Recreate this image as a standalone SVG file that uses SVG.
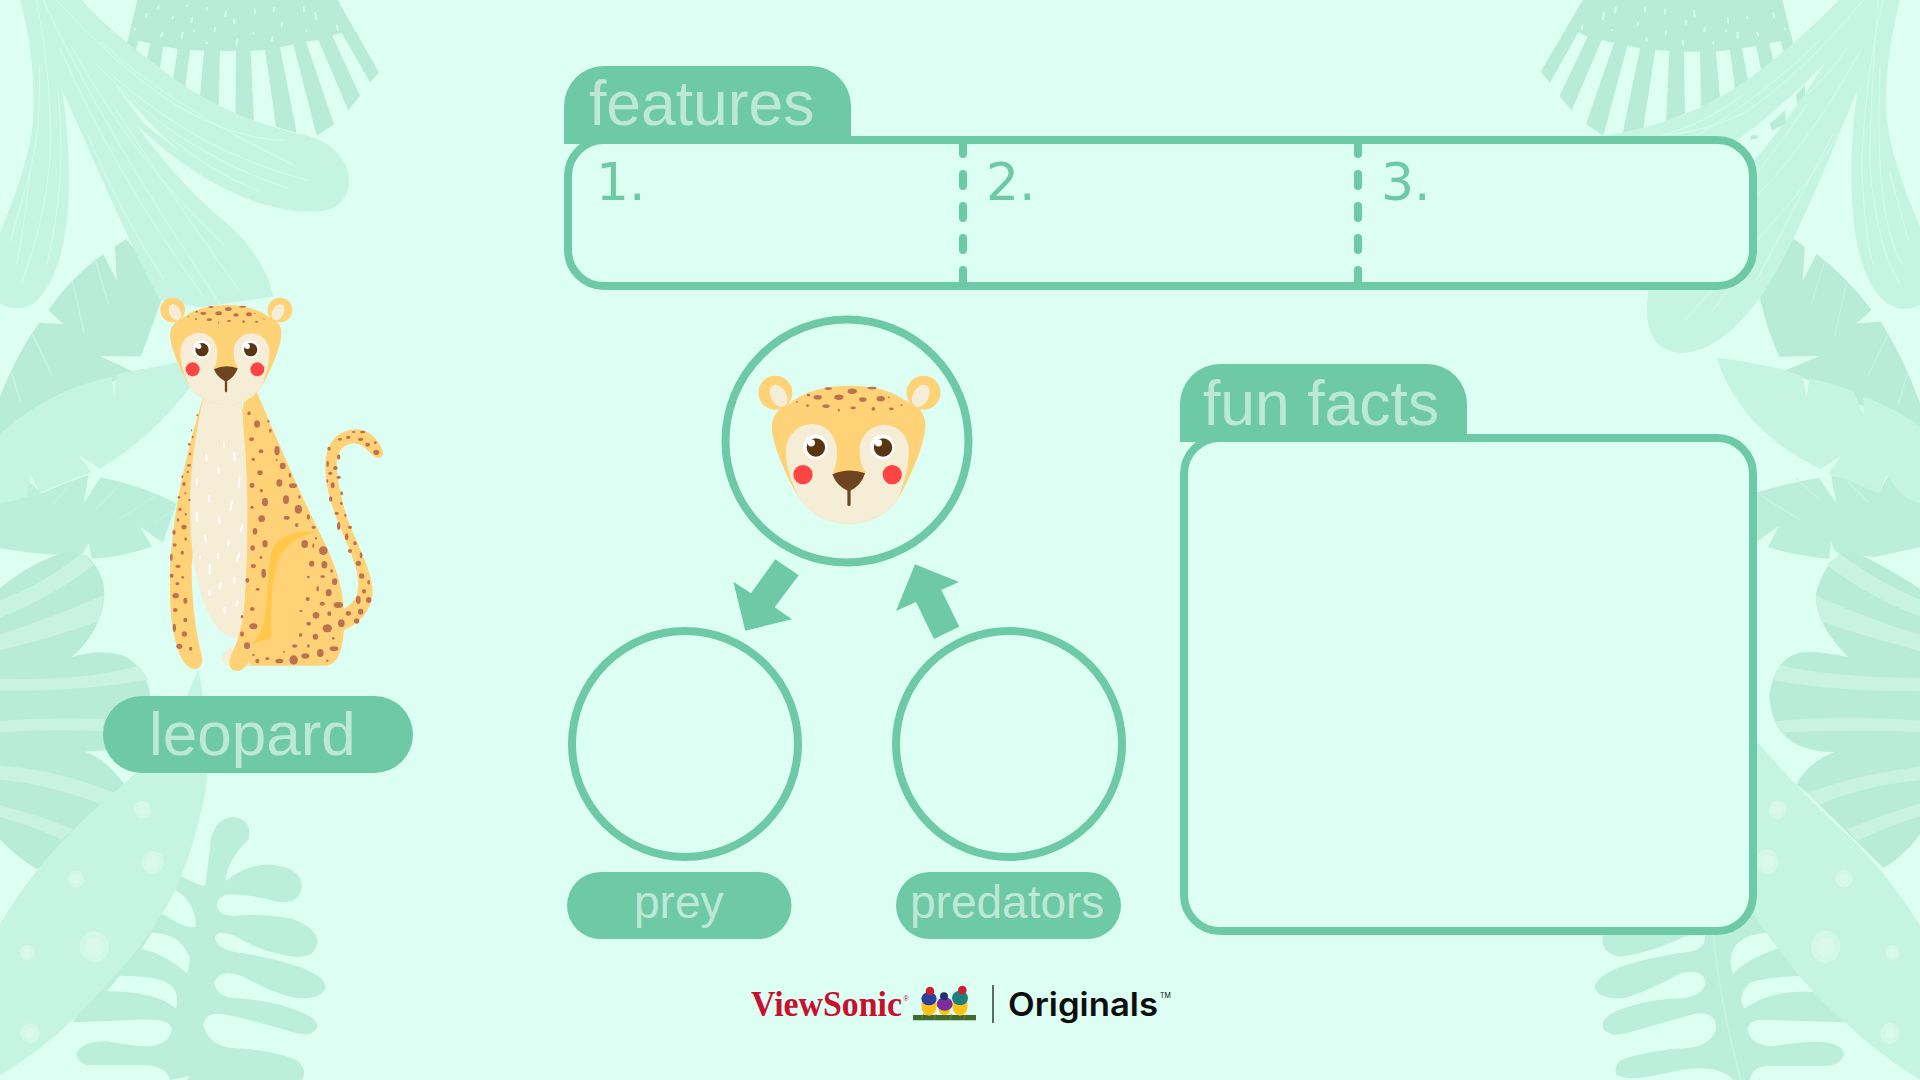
<svg xmlns="http://www.w3.org/2000/svg" xmlns:xlink="http://www.w3.org/1999/xlink" width="1920" height="1080" viewBox="0 0 1920 1080">
<style>
.bg{fill:#DDFFF3}
.lt{fill:#C5F4E3}
.dk{fill:#B8ECD9}
.md{fill:#BCEEDC}
.st{fill:#C8F3E2}
.vein{fill:none;stroke:#DDFFF3;stroke-width:2.4;stroke-opacity:.75;stroke-linecap:round}
.rib{fill:none;stroke:#C8F3E2;stroke-width:5;stroke-linecap:round}
.speck{fill:none;stroke:#DDFFF3;stroke-width:5;stroke-linecap:round}
.dot{fill:#D3F7E9}
.dot2{fill:#DAF9EE}
.line{fill:none;stroke:#6EC9A6;stroke-width:8}
.panel{fill:#DDFFF3;stroke:#6EC9A6;stroke-width:8}
.solid{fill:#6EC9A6}
.dash{fill:none;stroke:#6EC9A6;stroke-width:8;stroke-linecap:round;stroke-dasharray:12 20}
.title{font-family:"Liberation Sans",Arial,sans-serif;fill:#BDE8D8}
.num{font-family:"DejaVu Sans",sans-serif;font-size:52px;fill:#6EC9A6}
.fur{fill:#FFD277}
.cream{fill:#F5EDD6}
.spot ellipse{fill:#BE7150}
.chalk{fill:none;stroke:#fff;stroke-width:6;stroke-linecap:round}
</style>
<defs>
<g id="leopard-head">
<circle class="fur" cx="98" cy="90" r="37"/>
<circle class="fur" cx="420" cy="90" r="37"/>
<ellipse class="cream" cx="105" cy="97" rx="17" ry="26" transform="rotate(-28 105 97)"/>
<ellipse class="cream" cx="414" cy="97" rx="17" ry="26" transform="rotate(28 414 97)"/>
<path class="fur" d="M260,75C205,75 160,88 132,112C105,122 90,140 90,168C92,205 125,280 150,320C175,355 215,375 258,375C302,375 340,355 365,320C385,285 424,205 424,160C424,130 405,118 382,108C350,85 310,75 260,75Z"/>
<path class="cream" d="M150,320C130,280 120,245 121,215C122,180 150,158 178,158C210,158 232,185 232,220C232,240 228,255 222,265L295,265C285,250 281,235 281,215C281,185 305,160 335,160C365,160 388,185 388,215C388,250 378,285 365,320C340,355 300,375 258,375C215,375 175,355 150,320Z"/>
<g class="spot">
<ellipse cx="190" cy="100" rx="9" ry="5"/><ellipse cx="236" cy="100" rx="10" ry="6"/><ellipse cx="265" cy="87" rx="10" ry="6"/><ellipse cx="288" cy="105" rx="8" ry="5"/><ellipse cx="327" cy="103" rx="9" ry="6"/><ellipse cx="208" cy="119" rx="8" ry="4"/><ellipse cx="213" cy="81" rx="8" ry="3"/><ellipse cx="308" cy="80" rx="10" ry="3"/><ellipse cx="170" cy="95" rx="4" ry="3"/><ellipse cx="168" cy="118" rx="3" ry="3"/><ellipse cx="236" cy="128" rx="2" ry="3"/><ellipse cx="267" cy="123" rx="6" ry="3"/><ellipse cx="311" cy="125" rx="4" ry="4"/><ellipse cx="350" cy="125" rx="5" ry="3"/><ellipse cx="372" cy="117" rx="2" ry="2"/><ellipse cx="145" cy="110" rx="2" ry="2"/><ellipse cx="345" cy="100" rx="2" ry="2"/>
</g>
<circle cx="185" cy="208" r="27" fill="#fff"/><circle cx="331" cy="208" r="27" fill="#fff"/>
<circle cx="186" cy="209" r="20" fill="#5A3512"/><circle cx="332" cy="209" r="20" fill="#5A3512"/>
<circle cx="176" cy="199" r="8" fill="#fff"/><circle cx="322" cy="199" r="8" fill="#fff"/>
<circle cx="158" cy="268" r="21" fill="#FF4444"/><circle cx="352" cy="268" r="21" fill="#FF4444"/>
<path d="M222,267Q258,252 293,265Q285,292 258,305Q230,292 222,267Z" fill="#6E4520"/>
<path d="M258,298V333" stroke="#6E4520" stroke-width="7" stroke-linecap="round" fill="none"/>
</g>
</defs>

<rect class="bg" width="1920" height="1080"/>

<!-- foliage, left side -->
<g id="foliage-left">
<g transform="scale(.33333 .35714)">
<path class="dk" d="M412,0L380,125L405,150L415,115L450,122L440,170L478,205L490,130L533,137L518,225L556,245L570,140L612,142L600,270L656,298L660,143L708,143L706,320L762,340L752,143L795,140L828,355L890,372L840,132L880,125L950,380L1002,348L918,117L955,112L1045,310L1080,268L997,100L1025,92L1110,230L1137,203L1013,0Z"/>
<path class="speck" d="M440,38l-2,10M477,18l-4,4M563,15l-3,2M622,22l-2,6M678,32l-2,14M764,26l1,10M823,22l-2,10M911,20l1,12M945,36l4,18M520,46l-3,6M577,50l-3,12M702,56l1,10M846,64l-1,8M1010,72l3,10M405,80l-1,3M583,85l-1,3M645,78l-1,10M760,92l0,3M920,85l-1,3M488,92l-5,10M548,92l-3,14M712,112l-3,14M817,105l-1,8M620,120l0,2"/>
<path class="dk" d="M345,245L372,270L362,285L345,262ZM410,305L450,340L445,365L403,335ZM490,378L505,388L495,390Z"/>
<path class="dk" d="M378,670L345,690L350,785L310,712Q220,770 145,868L190,908L118,903Q50,990 0,1110V1230L400,1040L300,997L423,998L500,800Z"/>
<path class="lt" d="M0,1215Q150,1090 335,1055L342,1110L350,1048L400,1038L530,1015L570,1085Q450,1230 300,1312L235,1275L275,1322Q190,1350 120,1380L92,1330L85,1400L0,1420Z"/>
<path class="rib" d="M30,1240L45,1175M72,1240L98,1150M130,1195L148,1120M210,1165L235,1085M240,1175L280,1075M350,1180L400,1040M35,1045L62,1125M97,935L155,1050M218,790L252,930M285,725L325,850"/>
<path class="lt" d="M60,0C85,80 105,200 100,310C100,420 40,560 0,650V850C30,865 70,870 100,850C170,800 205,670 207,520C208,400 195,300 185,250C260,400 380,670 480,840L600,860L820,830C800,740 730,660 660,610C560,530 480,440 410,350C600,520 800,600 950,592C1020,590 1048,550 1048,500C1040,430 970,385 900,375C800,355 620,300 480,190C380,120 300,60 245,0Z"/>
<path class="bg" d="M345,235Q440,340 540,425L430,345Z"/>
<path class="vein" d="M170,0Q330,170 520,290Q700,390 855,393M300,115Q500,290 880,462M330,205Q600,430 925,505M290,180Q520,420 862,527M510,385Q630,480 775,535M215,130Q400,450 670,683M180,135Q340,480 610,830M130,0Q300,350 660,850M340,295Q500,530 715,810M262,375Q350,580 490,780M110,0Q160,240 150,450Q130,640 65,790M118,185Q125,350 90,480Q75,620 50,740M90,480L32,675M172,245Q205,500 140,740"/>
</g>
<g transform="translate(0 440) scale(.33333)">
<path class="md" d="M0,190Q40,185 80,170L88,125L125,160Q190,130 265,105L252,190L302,112Q420,135 530,190L488,308L420,260L456,320Q370,350 275,356L265,310L245,345Q150,350 0,325Z"/>
<path class="rib" style="stroke-width:3" d="M80,170L105,130M160,190L215,130M285,210L365,128M355,240L470,165M460,250L530,205"/>
</g>
<g transform="translate(0 540) scale(.33333 .34444)">
<path class="dk" d="M0,140Q100,60 200,35Q250,30 275,60Q320,110 312,170Q300,270 215,340Q300,315 370,335Q440,370 450,450V600L255,615Q310,630 370,705L420,800L110,955Q50,920 0,870Z"/>
<path class="st" d="M0,175Q130,130 245,38L283,72Q150,170 0,225ZM0,275Q170,220 313,160L295,237Q150,285 0,320ZM0,403Q250,410 417,365L445,405Q250,440 0,437ZM0,525Q150,515 310,520V555Q150,548 0,558ZM0,655Q180,670 345,735L300,765Q150,710 0,695ZM0,770Q120,800 220,840L185,870Q90,825 0,805Z"/>
<path class="md" d="M615,1005Q628,920 632,870Q650,800 705,805Q760,815 745,870Q680,930 677,990Q740,940 810,942Q905,950 905,1005Q900,1060 830,1050Q740,1025 680,1030Q645,1040 653,1070Q665,1095 710,1090Q800,1085 880,1100Q955,1130 953,1170Q945,1215 880,1210Q780,1195 705,1150Q650,1130 645,1155Q650,1185 700,1195Q830,1215 900,1240Q980,1270 977,1302Q960,1335 890,1330Q830,1320 735,1270Q660,1240 642,1285Q650,1325 700,1330Q820,1335 915,1375Q955,1395 952,1415Q935,1445 880,1430Q760,1395 680,1378Q615,1365 610,1410Q630,1470 700,1475Q820,1480 890,1510Q925,1540 905,1568H560Q590,1525 650,1540L510,1568Q500,1530 440,1525H260Q225,1510 230,1490Q245,1455 320,1455Q400,1470 450,1470Q515,1460 515,1415Q500,1390 440,1392L220,1400L300,1250L520,960Q570,995 615,1005Z"/>
<path class="bg" d="M490,1085Q555,1130 587,1123Q590,1055 525,1015L450,1100ZM455,1140Q540,1140 568,1210Q570,1240 560,1258Q500,1205 425,1187ZM360,1265Q480,1265 515,1295Q540,1320 528,1360Q470,1310 320,1310Z"/>
<path class="lt" d="M595,375Q650,650 600,800Q560,970 490,1080Q420,1190 330,1280Q180,1450 0,1555V1115Q130,900 370,710L425,660Q520,560 595,375Z"/>
<circle class="dot" cx="428" cy="783" r="26"/><circle class="dot2" cx="428" cy="783" r="15"/>
<circle class="dot" cx="458" cy="935" r="33"/><circle class="dot2" cx="458" cy="935" r="20"/>
<circle class="dot" cx="227" cy="985" r="25"/><circle class="dot2" cx="227" cy="985" r="14"/>
<circle class="dot" cx="283" cy="1180" r="44"/><circle class="dot2" cx="283" cy="1180" r="28"/>
<circle class="dot" cx="82" cy="1198" r="22"/><circle class="dot2" cx="82" cy="1198" r="12"/>
<circle class="dot" cx="90" cy="1432" r="29"/><circle class="dot2" cx="90" cy="1432" r="16"/>
</g>
</g>

<!-- foliage, right side -->
<g id="foliage-right">
<g transform="translate(1500 0) scale(.33333)">
<path class="dk" d="M248,0L122,215L150,248L235,97L263,110L178,288L215,332L305,120L342,130L258,372L310,408L382,137L420,145L368,400L430,385L466,150L508,153L498,365L555,340L552,155L600,155L603,322L660,295L648,155L690,150L705,268L745,243L726,145L768,138L785,215L822,190L808,130L842,123L853,165L882,140L847,0Z"/>
<path class="speck" d="M312,38l-3,20M347,22l-1,15M435,22l1,12M495,28l-1,12M582,32l2,16M683,54l2,14M741,50l1,5M820,40l2,12M247,78l-2,10M414,68l-1,8M558,62l-1,10M337,90l-1,2M498,94l-1,8M614,84l-1,10M678,90l-1,4M712,98l1,16M771,98l4,8M854,86l0,2M440,114l0,8M548,122l1,12M640,128l0,4"/>
<path class="dk" d="M838,1070L958,1068L858,1110L1260,1300V1210Q1210,1070 1142,965L1070,970L1115,930Q1040,830 950,762L908,842L915,742L880,715L780,895Q800,990 838,1070Z"/>
<path class="rib" style="stroke-width:3" d="M975,780L935,910M1040,845L1005,1005M1165,1000L1105,1125M1225,1115L1195,1210"/>
<path class="lt" d="M650,1073Q750,1085 858,1110L908,1130L920,1190L928,1135Q1000,1150 1062,1175L1090,1245L1090,1190Q1180,1220 1260,1280V1510Q1200,1500 1170,1447L1160,1425L1135,1480Q1050,1450 985,1420L1022,1368L962,1408Q720,1290 650,1073Z"/>
<path class="rib" d="M718,1085Q735,1130 750,1165M785,1100Q800,1190 830,1245M818,1105Q830,1150 848,1195M858,1115Q880,1200 908,1265M978,1150Q990,1230 1022,1295M1025,1165Q1035,1210 1052,1250M1110,1195L1132,1280M1165,1225L1190,1325M1215,1255L1235,1325"/>
<path class="lt" d="M1017,0Q880,140 740,240Q560,370 310,408L445,870Q420,1050 540,1058Q650,1065 780,895Q880,750 1072,270Q1040,500 1065,700Q1100,900 1195,925Q1230,930 1260,915V680Q1170,470 1160,350Q1150,200 1200,0Z"/>
<path class="bg" d="M975,190Q850,320 700,430L765,480Q880,340 975,190Z"/>
<path class="dk" d="M888,285L915,255L915,290L892,315ZM810,370L855,330L858,370L815,392ZM755,405L772,405L775,415L750,420Z"/>
<path class="vein" d="M1090,0Q900,230 730,340Q620,395 480,408M960,120Q800,280 590,408M735,283Q620,370 480,408M1045,140Q900,350 700,420M1082,150Q950,400 770,590M920,315Q850,420 770,520M1000,400L770,840M1085,260Q1000,480 770,720M690,860L640,930M635,870L555,960M1150,0Q1100,200 1085,480Q1090,680 1118,790M1140,200Q1130,450 1150,600Q1170,740 1210,795M1135,0Q1110,300 1110,500Q1130,740 1198,850M1168,515L1225,720"/>
</g>
<path class="md" d="M1745,496Q1790,482 1819,478L1836,503L1831,475Q1855,482 1878,493L1888,477L1892,482Q1903,500 1920,503V547Q1895,553 1875,557L1840,554Q1834,552 1831,542L1829,559Q1795,556 1768,547L1779,526L1745,550Z"/>
<path class="rib" style="stroke-width:1.4" d="M1760,495L1800,520M1796,478L1820,500M1848,482L1868,502"/>
<g transform="translate(1500 500) scale(.33333 .36990)">
<path class="dk" d="M1020,145Q960,190 947,260Q950,340 1045,425Q960,408 900,412Q820,430 808,530Q815,680 1003,682Q920,710 890,770L925,795L1150,995Q1210,965 1260,905V240Q1140,170 1060,140Z"/>
<path class="st" d="M1020,145Q1130,220 1260,270V315Q1100,260 980,175ZM947,258Q1100,320 1260,365V408Q1100,370 965,330Q950,300 947,258ZM840,447Q1000,480 1260,482V517Q1000,518 818,487ZM825,598Q1050,580 1260,597V627Q1050,620 848,628ZM920,793Q1080,740 1260,722V757Q1080,775 957,824ZM1040,890Q1150,850 1260,820V855Q1150,885 1075,922Z"/>
<path class="md" d="M310,1170Q295,1225 360,1235Q450,1225 560,1178L615,1175Q618,1210 575,1220Q420,1240 340,1270Q285,1295 283,1320Q300,1350 370,1347Q440,1330 540,1280Q600,1265 617,1300Q610,1345 540,1347Q420,1350 330,1390Q300,1410 310,1430Q335,1455 385,1440Q500,1410 590,1388Q650,1385 648,1430Q630,1480 550,1482Q430,1490 360,1515Q340,1535 350,1555Q390,1575 520,1545Q650,1520 700,1568H750Q755,1530 810,1530H980Q1030,1525 1032,1495Q1020,1460 920,1465L810,1477Q750,1470 743,1430Q750,1405 790,1405L1035,1412L1100,1300L800,1120L770,1100L640,1160Z"/>
<path class="bg" d="M700,1280Q680,1240 710,1200Q750,1170 805,1170L838,1212Q750,1235 700,1280ZM733,1375Q710,1340 750,1305Q800,1290 900,1287L945,1330Q820,1320 733,1375Z"/>
<path class="rib" d="M640,1175Q660,1360 722,1568"/>
<path class="lt" d="M740,620Q880,770 1000,870Q1150,990 1260,1150V1568Q1120,1490 1020,1400Q880,1290 740,1090Z"/>
<circle class="dot" cx="832" cy="838" r="26"/><circle class="dot2" cx="832" cy="838" r="15"/>
<circle class="dot" cx="802" cy="978" r="33"/><circle class="dot2" cx="802" cy="978" r="20"/>
<circle class="dot" cx="1032" cy="1024" r="25"/><circle class="dot2" cx="1032" cy="1024" r="14"/>
<circle class="dot" cx="977" cy="1208" r="44"/><circle class="dot2" cx="977" cy="1208" r="28"/>
<circle class="dot" cx="1177" cy="1224" r="21"/><circle class="dot2" cx="1177" cy="1224" r="12"/>
<circle class="dot" cx="1170" cy="1442" r="29"/><circle class="dot2" cx="1170" cy="1442" r="16"/>
</g>
</g>

<!-- seated leopard -->
<g id="leopard" transform="translate(140 280) scale(.33333)">
<path class="fur" d="M730,520C725,495 695,448 650,448C590,450 556,490 556,560C556,640 590,720 625,800C650,860 660,900 652,940C640,970 625,980 605,990L612,1050C660,1030 698,990 698,930C695,870 650,790 620,710C600,640 590,590 590,550C592,510 615,490 645,490C675,492 690,525 710,533C722,535 730,530 730,520Z"/>
<path class="fur" d="M350,335C400,450 470,620 540,760C590,860 612,930 612,1010C614,1090 600,1157 555,1157H320L300,1060L310,370Z"/>
<path class="fur" d="M190,350C165,430 130,560 110,680C95,770 88,850 90,950C92,1050 115,1165 165,1167C185,1165 190,1145 185,1125C165,1050 155,950 155,860L200,350Z"/>
<path class="cream" d="M190,350C170,450 150,560 150,680C150,800 165,950 230,1040C260,1075 290,1080 300,1070C318,1000 325,800 322,650C320,530 310,440 303,370Z"/>
<path class="cream" d="M245,1135Q250,1110 275,1100L335,1155L270,1157Q245,1155 245,1135Z"/>
<path class="fur" d="M303,370C330,550 325,800 315,960C310,1020 300,1060 285,1100C270,1130 262,1150 275,1168C295,1182 320,1165 328,1140L345,1080L400,700Z"/>
<path fill="#FFC84A" d="M525,757C470,748 420,770 400,800C385,840 385,900 378,1000C372,1040 355,1075 335,1092L393,1075C392,1000 395,900 412,850C430,800 470,770 525,757Z"/>
<path class="chalk" d="M252,490v10M199,524v18M283,520v20M236,565v14M170,598v16M298,594l-2,26M207,648v16M275,665l-3,24M170,698v26M236,713l4,16M308,736l-6,16M194,766l4,20M265,782v14M180,830v4M234,822v12M298,820l-8,26M209,855v26M283,893v16M242,908l-3,16M208,932v12M293,966l-4,10M254,984v12"/>
<g class="spot">
<ellipse cx="327" cy="400" rx="5" ry="6"/><ellipse cx="351" cy="432" rx="9" ry="11"/><ellipse cx="335" cy="478" rx="7" ry="6"/><ellipse cx="363" cy="514" rx="7" ry="6"/><ellipse cx="411" cy="512" rx="8" ry="14"/><ellipse cx="340" cy="538" rx="5" ry="5"/><ellipse cx="428" cy="558" rx="9" ry="10"/><ellipse cx="360" cy="578" rx="8" ry="7"/><ellipse cx="418" cy="609" rx="9" ry="11"/><ellipse cx="459" cy="617" rx="12" ry="7"/><ellipse cx="336" cy="616" rx="7" ry="8"/><ellipse cx="364" cy="632" rx="5" ry="5"/><ellipse cx="375" cy="666" rx="9" ry="13"/><ellipse cx="438" cy="659" rx="9" ry="13"/><ellipse cx="475" cy="688" rx="11" ry="13"/><ellipse cx="336" cy="682" rx="5" ry="5"/><ellipse cx="478" cy="651" rx="4" ry="5"/><ellipse cx="365" cy="716" rx="10" ry="10"/><ellipse cx="440" cy="713" rx="9" ry="6"/><ellipse cx="505" cy="711" rx="5" ry="8"/><ellipse cx="345" cy="754" rx="7" ry="10"/><ellipse cx="470" cy="735" rx="5" ry="6"/><ellipse cx="521" cy="742" rx="6" ry="5"/><ellipse cx="375" cy="791" rx="8" ry="11"/><ellipse cx="338" cy="804" rx="7" ry="8"/><ellipse cx="363" cy="832" rx="4" ry="5"/><ellipse cx="340" cy="858" rx="8" ry="6"/><ellipse cx="371" cy="880" rx="7" ry="14"/><ellipse cx="322" cy="901" rx="6" ry="7"/><ellipse cx="353" cy="928" rx="6" ry="4"/><ellipse cx="337" cy="987" rx="7" ry="6"/><ellipse cx="340" cy="1039" rx="12" ry="9"/><ellipse cx="306" cy="1062" rx="6" ry="8"/><ellipse cx="321" cy="1097" rx="9" ry="10"/><ellipse cx="306" cy="1010" rx="4" ry="5"/><ellipse cx="391" cy="452" rx="4" ry="6"/><ellipse cx="385" cy="424" rx="3" ry="4"/><ellipse cx="410" cy="540" rx="3" ry="3"/><ellipse cx="450" cy="586" rx="4" ry="7"/>
<ellipse cx="494" cy="792" rx="10" ry="12"/><ellipse cx="550" cy="812" rx="13" ry="13"/><ellipse cx="520" cy="797" rx="3" ry="7"/><ellipse cx="528" cy="775" rx="4" ry="3"/><ellipse cx="553" cy="854" rx="9" ry="11"/><ellipse cx="515" cy="851" rx="8" ry="9"/><ellipse cx="584" cy="905" rx="8" ry="10"/><ellipse cx="575" cy="873" rx="4" ry="5"/><ellipse cx="548" cy="890" rx="7" ry="4"/><ellipse cx="505" cy="891" rx="4" ry="4"/><ellipse cx="533" cy="926" rx="4" ry="8"/><ellipse cx="566" cy="938" rx="9" ry="11"/><ellipse cx="503" cy="957" rx="6" ry="6"/><ellipse cx="595" cy="975" rx="14" ry="9"/><ellipse cx="547" cy="971" rx="8" ry="6"/><ellipse cx="483" cy="993" rx="5" ry="3"/><ellipse cx="528" cy="1006" rx="10" ry="10"/><ellipse cx="568" cy="1001" rx="6" ry="7"/><ellipse cx="506" cy="1031" rx="7" ry="6"/><ellipse cx="604" cy="1030" rx="10" ry="12"/><ellipse cx="562" cy="1045" rx="14" ry="12"/><ellipse cx="482" cy="1065" rx="5" ry="6"/><ellipse cx="526" cy="1070" rx="8" ry="9"/><ellipse cx="580" cy="1075" rx="4" ry="4"/><ellipse cx="464" cy="1098" rx="8" ry="5"/><ellipse cx="505" cy="1098" rx="4" ry="5"/><ellipse cx="541" cy="1119" rx="10" ry="12"/><ellipse cx="582" cy="1106" rx="13" ry="7"/><ellipse cx="432" cy="1115" rx="3" ry="3"/><ellipse cx="496" cy="1128" rx="12" ry="8"/><ellipse cx="418" cy="1143" rx="12" ry="7"/><ellipse cx="461" cy="1140" rx="13" ry="14"/><ellipse cx="382" cy="1136" rx="6" ry="4"/><ellipse cx="352" cy="1143" rx="6" ry="7"/><ellipse cx="340" cy="1125" rx="4" ry="3"/><ellipse cx="562" cy="1142" rx="4" ry="3"/>
<ellipse cx="172" cy="406" rx="3" ry="3"/><ellipse cx="155" cy="451" rx="2" ry="3"/><ellipse cx="158" cy="471" rx="3" ry="4"/><ellipse cx="148" cy="493" rx="4" ry="4"/><ellipse cx="150" cy="522" rx="4" ry="4"/><ellipse cx="147" cy="556" rx="6" ry="4"/><ellipse cx="143" cy="576" rx="3" ry="4"/><ellipse cx="127" cy="590" rx="3" ry="4"/><ellipse cx="132" cy="612" rx="5" ry="6"/><ellipse cx="136" cy="640" rx="3" ry="3"/><ellipse cx="117" cy="652" rx="4" ry="4"/><ellipse cx="148" cy="660" rx="4" ry="3"/><ellipse cx="120" cy="688" rx="5" ry="5"/><ellipse cx="137" cy="703" rx="3" ry="4"/><ellipse cx="114" cy="720" rx="4" ry="5"/><ellipse cx="132" cy="741" rx="8" ry="7"/><ellipse cx="102" cy="757" rx="5" ry="8"/><ellipse cx="137" cy="777" rx="4" ry="5"/><ellipse cx="104" cy="795" rx="6" ry="5"/><ellipse cx="127" cy="818" rx="5" ry="6"/><ellipse cx="94" cy="832" rx="4" ry="11"/><ellipse cx="114" cy="859" rx="8" ry="5"/><ellipse cx="95" cy="887" rx="6" ry="6"/><ellipse cx="128" cy="892" rx="4" ry="4"/><ellipse cx="112" cy="911" rx="6" ry="5"/><ellipse cx="107" cy="947" rx="10" ry="8"/><ellipse cx="136" cy="962" rx="6" ry="9"/><ellipse cx="106" cy="990" rx="7" ry="6"/><ellipse cx="136" cy="1020" rx="6" ry="7"/><ellipse cx="103" cy="1043" rx="5" ry="12"/><ellipse cx="133" cy="1062" rx="8" ry="8"/><ellipse cx="118" cy="1099" rx="9" ry="8"/><ellipse cx="152" cy="1106" rx="5" ry="6"/>
<ellipse cx="709" cy="517" rx="9" ry="8"/><ellipse cx="683" cy="494" rx="7" ry="6"/><ellipse cx="706" cy="488" rx="4" ry="4"/><ellipse cx="662" cy="478" rx="8" ry="5"/><ellipse cx="625" cy="472" rx="7" ry="5"/><ellipse cx="668" cy="456" rx="8" ry="4"/><ellipse cx="641" cy="456" rx="5" ry="3"/><ellipse cx="600" cy="478" rx="6" ry="4"/><ellipse cx="567" cy="506" rx="5" ry="6"/><ellipse cx="596" cy="531" rx="5" ry="8"/><ellipse cx="563" cy="552" rx="4" ry="9"/><ellipse cx="586" cy="564" rx="7" ry="6"/><ellipse cx="571" cy="580" rx="6" ry="5"/><ellipse cx="596" cy="592" rx="6" ry="5"/><ellipse cx="562" cy="603" rx="3" ry="5"/><ellipse cx="578" cy="616" rx="6" ry="9"/><ellipse cx="605" cy="640" rx="4" ry="6"/><ellipse cx="572" cy="657" rx="5" ry="8"/><ellipse cx="604" cy="670" rx="4" ry="5"/><ellipse cx="590" cy="700" rx="6" ry="5"/><ellipse cx="616" cy="706" rx="3" ry="5"/><ellipse cx="596" cy="738" rx="5" ry="12"/><ellipse cx="630" cy="742" rx="6" ry="5"/><ellipse cx="620" cy="770" rx="5" ry="10"/><ellipse cx="645" cy="790" rx="5" ry="6"/><ellipse cx="630" cy="813" rx="6" ry="6"/><ellipse cx="663" cy="826" rx="4" ry="9"/><ellipse cx="655" cy="850" rx="8" ry="8"/><ellipse cx="665" cy="888" rx="8" ry="8"/><ellipse cx="686" cy="907" rx="4" ry="7"/><ellipse cx="672" cy="934" rx="6" ry="7"/><ellipse cx="686" cy="960" rx="8" ry="9"/><ellipse cx="655" cy="960" rx="7" ry="12"/><ellipse cx="625" cy="1000" rx="8" ry="7"/><ellipse cx="662" cy="995" rx="8" ry="9"/><ellipse cx="650" cy="1023" rx="8" ry="8"/>
</g>
<use href="#leopard-head" xlink:href="#leopard-head"/>
</g>

<g id="label-leopard">
<rect class="solid" x="103" y="696" width="310" height="77" rx="38.500"/>
<text class="title" x="149" y="755" font-size="62">leopard</text>
</g>

<g id="features">
<rect class="panel" x="568" y="140" width="1185" height="146" rx="36"/>
<path class="solid" d="M564,144V106A40,40 0 0 1 604,66H811A40,40 0 0 1 851,106V144Z"/>
<text class="title" x="589" y="125" font-size="62.400">features</text>
<path class="dash" d="M963,142V282"/>
<path class="dash" d="M1358,142V282"/>
<text class="num" x="596" y="200">1.</text>
<text class="num" x="986" y="200">2.</text>
<text class="num" x="1381" y="200">3.</text>
</g>

<g id="fun-facts">
<rect class="panel" x="1184" y="438" width="569" height="493" rx="36"/>
<path class="solid" d="M1180,442V404A40,40 0 0 1 1220,364H1427A40,40 0 0 1 1467,404V442Z"/>
<text class="title" x="1203" y="425" font-size="62.500">fun facts</text>
</g>

<g id="animal">
<circle class="line" cx="847" cy="441" r="121.500"/>
<use href="#leopard-head" xlink:href="#leopard-head" transform="translate(849 470) scale(.46) translate(-258 -258)"/>
</g>

<g id="prey">
<circle class="line" cx="685" cy="744" r="113"/>
<rect class="solid" x="567" y="872" width="224.500" height="67" rx="33.500"/>
<text class="title" x="634" y="918" font-size="46">prey</text>
</g>

<g id="predators">
<circle class="line" cx="1009" cy="744" r="113"/>
<rect class="solid" x="896" y="872" width="225" height="67" rx="33.500"/>
<text class="title" x="910" y="918" font-size="46">predators</text>
</g>

<g id="connectors">
<polygon class="solid" points="775.300,559.300 798.700,575.300 774.700,607.300 792,619.300 745.300,630.700 733.300,581.700 751,593.300"/>
<polygon class="solid" points="915,564.300 959,582 941.300,590 959.300,626.700 934,639 916,602 896,611"/>
</g>

<!-- maker's mark -->
<g id="logo">
<text x="751" y="1016" font-family="'Liberation Serif','Times New Roman',serif" font-weight="700" font-size="35" fill="#C8102E" textLength="151" lengthAdjust="spacingAndGlyphs">ViewSonic</text>
<text x="903.500" y="1001" font-family="'Liberation Sans',Arial,sans-serif" font-size="7" fill="#C8102E">®</text>
<g transform="translate(730 970) scale(.33333)">
<path d="M549,135H738V151H549Z" fill="#3F6B2D"/>
<path d="M575,145l6,-14M612,148l6,-15M660,148l5,-15M700,148l8,-14" stroke="#8A7A3A" stroke-width="3" fill="none"/>
<ellipse cx="597" cy="107" rx="23" ry="30" fill="#FFC21A"/>
<ellipse cx="597" cy="86" rx="23" ry="20" fill="#2A3F9E"/>
<circle cx="600" cy="63" r="13" fill="#C8202E"/>
<ellipse cx="690" cy="107" rx="23" ry="30" fill="#FFC21A"/>
<ellipse cx="690" cy="84" rx="24" ry="22" fill="#1F7F7A"/>
<circle cx="697" cy="60" r="13" fill="#C8202E"/>
<ellipse cx="643" cy="118" rx="17" ry="18" fill="#FFC21A"/>
<ellipse cx="644" cy="102" rx="24" ry="20" fill="#7B2E9E"/>
<circle cx="642" cy="79" r="12" fill="#24306F"/>
</g>
<path d="M993,985V1023" stroke="#2E3A35" stroke-width="1.500"/>
<text x="1008" y="1016" font-family="Inter,'Liberation Sans',sans-serif" font-weight="600" font-size="33" fill="#0E0E0E" textLength="150" lengthAdjust="spacingAndGlyphs">Originals</text>
<text x="1160" y="998" font-family="Inter,'Liberation Sans',sans-serif" font-size="7" fill="#0E0E0E">TM</text>
</g>
</svg>
